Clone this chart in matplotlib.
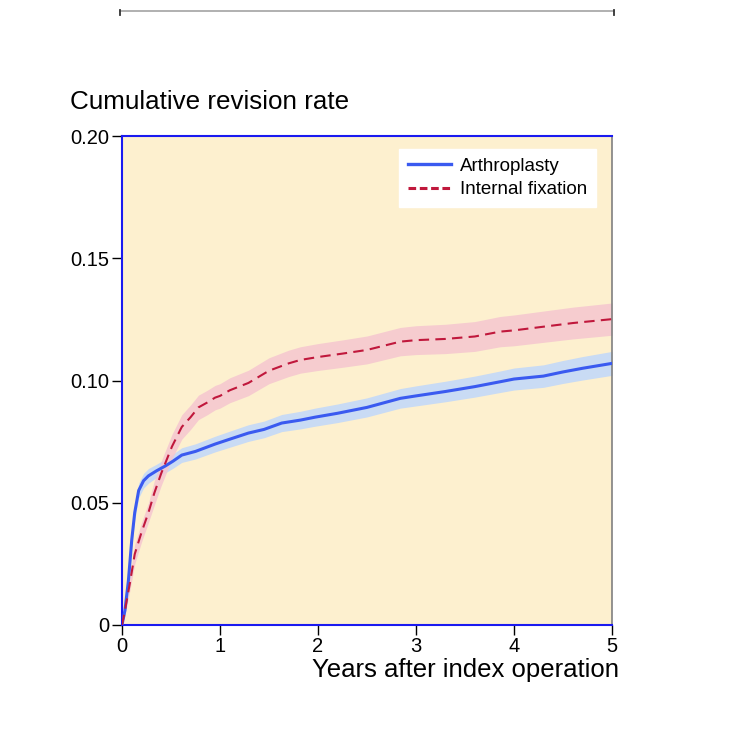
import matplotlib
matplotlib.use("Agg")
import matplotlib.pyplot as plt
from matplotlib.lines import Line2D

plt.rcParams['font.family'] = ['Liberation Sans', 'DejaVu Sans']

# Arthroplasty
arth_x = [0, 0.03, 0.065, 0.10, 0.13, 0.17, 0.22, 0.27, 0.35, 0.44, 0.52, 0.61, 0.75, 0.95, 1.1, 1.29, 1.45, 1.63, 1.82, 1.97, 2.2, 2.5, 2.84, 3.0, 3.3, 3.6, 3.86, 4.0, 4.3, 4.5, 4.7, 5.0]
arth_y = [0, 0.006, 0.018, 0.035, 0.046, 0.055, 0.059, 0.061, 0.063, 0.065, 0.067, 0.0695, 0.071, 0.074, 0.076, 0.0785, 0.080, 0.0826, 0.0838, 0.085, 0.0866, 0.089, 0.0927, 0.0937, 0.0955, 0.0975, 0.0995, 0.1006, 0.1018, 0.1035, 0.105, 0.107]
arth_lo = [0, 0.004, 0.015, 0.032, 0.043, 0.052, 0.056, 0.058, 0.0603, 0.0622, 0.0641, 0.0665, 0.0679, 0.0708, 0.0727, 0.0751, 0.0766, 0.0791, 0.0802, 0.0813, 0.0828, 0.0851, 0.0887, 0.0896, 0.0913, 0.0932, 0.0951, 0.0961, 0.0972, 0.0988, 0.1002, 0.1021]
arth_hi = [0, 0.008, 0.021, 0.038, 0.049, 0.058, 0.062, 0.064, 0.0657, 0.0678, 0.0699, 0.0725, 0.0741, 0.0772, 0.0793, 0.0819, 0.0834, 0.0861, 0.0874, 0.0887, 0.0904, 0.0929, 0.0967, 0.0978, 0.0997, 0.1018, 0.1039, 0.1051, 0.1064, 0.1082, 0.1098, 0.1119]

# Internal fixation
fix_x = [0, 0.03, 0.08, 0.13, 0.20, 0.27, 0.33, 0.40, 0.45, 0.51, 0.56, 0.61, 0.70, 0.78, 0.87, 0.95, 1.0, 1.1, 1.29, 1.5, 1.7, 1.82, 2.0, 2.25, 2.5, 2.84, 3.0, 3.3, 3.6, 3.86, 4.0, 4.3, 4.6, 5.0]
fix_y = [0, 0.006, 0.017, 0.029, 0.038, 0.046, 0.054, 0.062, 0.067, 0.073, 0.077, 0.081, 0.085, 0.089, 0.091, 0.093, 0.0937, 0.096, 0.099, 0.104, 0.107, 0.1084, 0.1096, 0.111, 0.1125, 0.1159, 0.1165, 0.117, 0.118, 0.120, 0.1205, 0.122, 0.1235, 0.1251]
fix_lo = [0, 0.004, 0.014, 0.025, 0.034, 0.042, 0.049, 0.057, 0.062, 0.068, 0.072, 0.076, 0.080, 0.084, 0.086, 0.088, 0.0887, 0.0909, 0.0938, 0.0987, 0.1016, 0.103, 0.1041, 0.1054, 0.1068, 0.1101, 0.1106, 0.1110, 0.1119, 0.1138, 0.1142, 0.1156, 0.1170, 0.1185]
fix_hi = [0, 0.008, 0.020, 0.033, 0.042, 0.050, 0.059, 0.067, 0.072, 0.078, 0.082, 0.086, 0.090, 0.094, 0.096, 0.098, 0.0987, 0.1011, 0.1042, 0.1093, 0.1124, 0.1138, 0.1151, 0.1166, 0.1182, 0.1217, 0.1224, 0.1230, 0.1241, 0.1262, 0.1268, 0.1284, 0.1300, 0.1317]

xticks = [0, 1, 2, 3, 4, 5]
yticks = [0, 0.05, 0.10, 0.15, 0.20]
ytick_labels = ["0", "0.05", "0.10", "0.15", "0.20"]

BLUE = "#3a5af0"
RED = "#c0183c"

fig = plt.figure(figsize=(7.37, 7.47), dpi=100)
ax = fig.add_axes([122/737, 1 - 625/747, 490/737, 489/747])
ax.set_facecolor("#fdf0cf")

ax.fill_between(arth_x, arth_lo, arth_hi, color="#c9dbf4", lw=0, zorder=2)
ax.fill_between(fix_x, fix_lo, fix_hi, color="#f5c6cf", lw=0, alpha=0.85, zorder=2)
ax.plot(arth_x, arth_y, color=BLUE, lw=2.2, zorder=4, solid_joinstyle="round")
ax.plot(fix_x, fix_y, color=RED, lw=1.5, ls=(0, (5, 3)), zorder=4)

ax.set_xlim(0, 5)
ax.set_ylim(0, 0.20)
ax.set_xticks(xticks)
ax.set_xticklabels([str(t) for t in xticks])
ax.set_yticks(yticks)
ax.set_yticklabels(ytick_labels)
ax.tick_params(direction="out", length=7, width=1, color="black", labelsize=14.5, pad=2)

for s in ["left", "bottom", "top"]:
    ax.spines[s].set_color("#1a1af0")
    ax.spines[s].set_linewidth(1.5)
ax.spines["right"].set_color("#808080")
ax.spines["right"].set_linewidth(1.2)

handles = [Line2D([0], [0], color=BLUE, lw=2.4),
           Line2D([0], [0], color=RED, lw=2.2, ls=(0, (2.5, 1.2)))]
leg = ax.legend(handles, ["Arthroplasty", "Internal fixation"], loc="upper right",
                bbox_to_anchor=(0.967, 0.9735), borderaxespad=0, frameon=True, fancybox=False,
                fontsize=13.5, handlelength=2.3, borderpad=0.45, labelspacing=0.35,
                handletextpad=0.5)
leg.get_frame().set_facecolor("white")
leg.get_frame().set_edgecolor("white")
leg.get_frame().set_alpha(1)

fig.text(70/737, 1 - 102/747, "Cumulative revision rate", fontsize=18.7, va="center", ha="left")
fig.text(619/737, 1 - 670/747, "Years after index operation", fontsize=18.5, va="center", ha="right")

# top decorative bar
fig.add_artist(Line2D([120/737, 614/737], [1 - 11/747, 1 - 11/747], color="#aaaaaa", lw=1.3))
fig.add_artist(Line2D([120/737, 120/737], [1 - 10/747, 1 - 15/747], color="#333333", lw=1.3))
fig.add_artist(Line2D([614/737, 614/737], [1 - 10/747, 1 - 15/747], color="#333333", lw=1.3))

fig.savefig("out.png", dpi=100)
